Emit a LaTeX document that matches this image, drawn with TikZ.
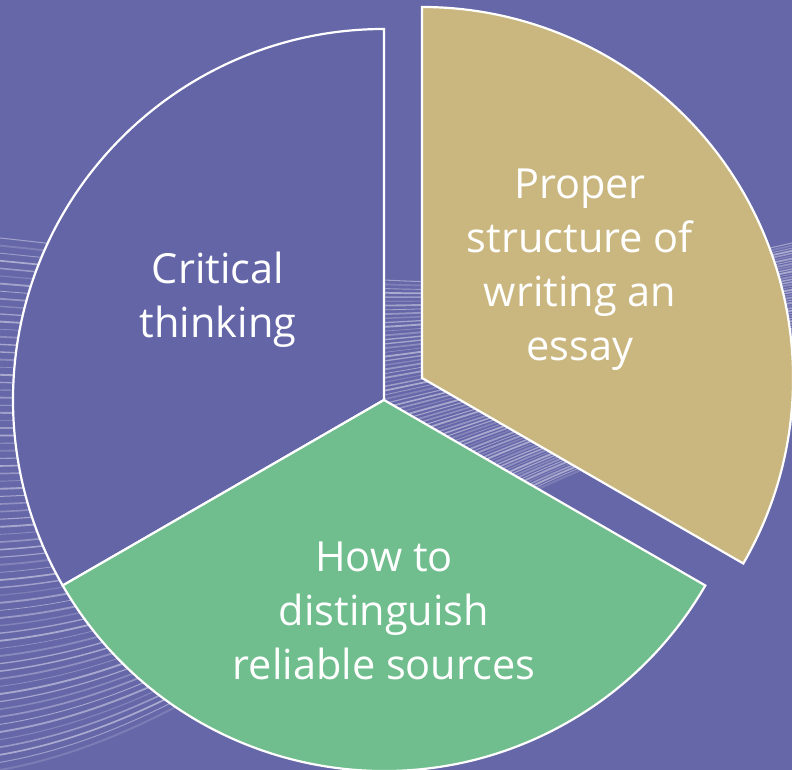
\documentclass[tikz,border=0pt]{standalone}
\usepackage{fontspec}
\setmainfont{Open Sans}
\definecolor{bgc}{HTML}{6667A9}
\definecolor{lav}{HTML}{6365A7}
\definecolor{grn}{HTML}{70BD8D}
\definecolor{gld}{HTML}{CAB67F}
\begin{document}
\begin{tikzpicture}[x=1pt,y=1pt,
  sector/.style={draw=white,line width=2.2pt,line join=miter},
  lbl/.style={text=white,font=\fontsize{41.5}{54}\selectfont,align=center,inner sep=0pt},
  swirl/.style={draw=white,line cap=round}]
\fill[bgc] (0,0) rectangle (792,770);
\useasboundingbox (0,0) rectangle (792,770);
% faint background swirl lines
\begin{scope}
\clip (0,0) rectangle (792,770);
\foreach \k in {0,...,70}{
  \pgfmathsetmacro{\yl}{\k*7.6}
  \pgfmathsetmacro{\ym}{340+\k*1.6}
  \pgfmathsetmacro{\yr}{345+\k*2.6}
  \pgfmathsetmacro{\op}{0.15+0.3*abs(sin(\k*47))}
  \pgfmathsetmacro{\lw}{0.6+1.3*abs(cos(\k*73))}
  \draw[swirl,opacity=\op,line width=\lw pt] (0,\yl) .. controls (280,\yl*0.85+50) and (470,\ym) .. (792,\yr);
}
\end{scope}
\coordinate (c) at (384,370);
\coordinate (g) at (422,392);
\filldraw[sector,fill=lav] (c) -- ++(90:371) arc[start angle=90,end angle=210,radius=371] -- cycle;
\filldraw[sector,fill=grn] (c) -- ++(210:371) arc[start angle=210,end angle=330,radius=371] -- cycle;
\filldraw[sector,fill=gld] (g) -- ++(-30:371) arc[start angle=-30,end angle=90,radius=371] -- cycle;
\node[lbl] (crit) at (218,470) {Critical\\thinking};
\node[lbl] (prop) at (580,500) {Proper\\structure of\\writing an\\essay};
\node[lbl] (how) at (384,159) {How to\\distinguish\\reliable sources};
\end{tikzpicture}
\end{document}
